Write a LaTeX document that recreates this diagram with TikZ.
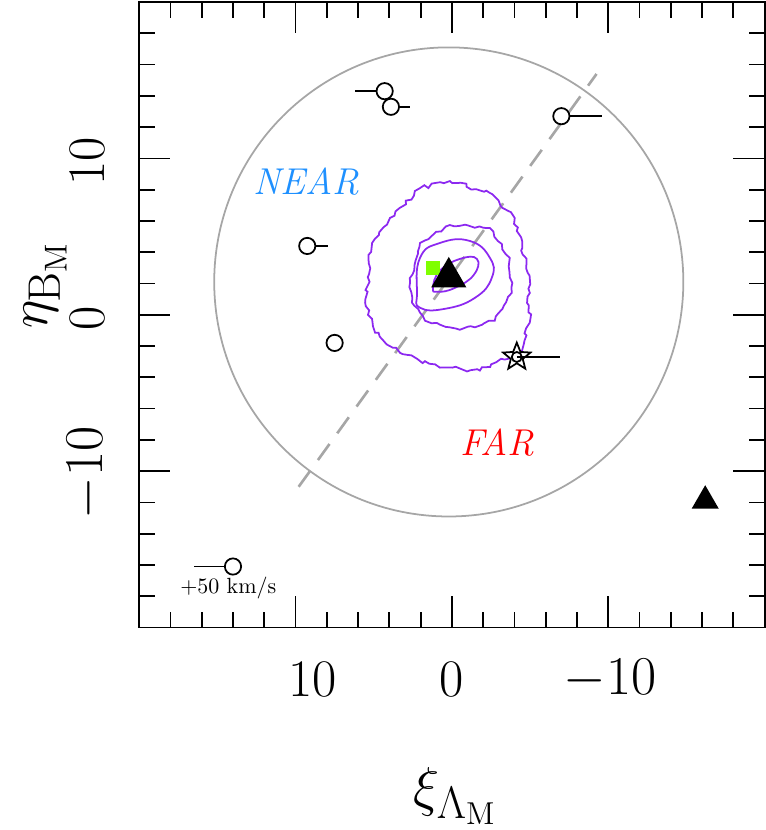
\documentclass[tikz,border=0pt]{standalone}
\usepackage{amsmath}
\usetikzlibrary{arrows.meta}
\usetikzlibrary{shapes.geometric}
\usetikzlibrary{decorations.pathmorphing}
\definecolor{contourpurple}{RGB}{140,40,240}
\definecolor{nearblue}{RGB}{30,144,255}
\definecolor{markgreen}{RGB}{127,255,0}
\tikzset{
  ticklabel/.style={font=\fontsize{24}{28}\selectfont},
  contour/.style={contourpurple, thick},
  wobbly/.style={decorate, decoration={random steps, segment length=2.2pt, amplitude=#1}},
  velobj/.style={black, thick},
  opencirc/.style={circle, draw, thick, minimum size=2.6mm, inner sep=0pt, fill=white},
  bigtri/.style={regular polygon, regular polygon sides=3, fill=black, inner sep=0pt, minimum size=#1},
}
\begin{document}
\begin{tikzpicture}[x=-0.25cm, y=0.25cm, every node/.style={scale=1}]
            \useasboundingbox (28.9,-32.95) rectangle (-20.05,20.13);
            % gray circle
            \draw[gray!70, thick] (0.2,2.1) circle (15);
            % dashed division line
            \draw[gray!70, line width=1.2pt, dash pattern=on 9pt off 6pt] (9.8,-11.0) -- (-9.25,15.4);

            % contours
            \draw[contour, wobbly=1pt] (5.55,0.77) -- (5.1,4.6) -- (3.96,6.19) -- (2.04,8.1) -- (0.13,8.55) -- (-2.43,7.79) -- (-4.02,6.19) -- (-4.85,2.68) -- (-4.98,-0.51) -- (-4.34,-2.43) -- (-1.79,-3.57) -- (0.77,-3.38) -- (3.32,-2.43) -- (4.91,-1.15) -- cycle;
            \draw[contour, wobbly=0.7pt] (2.68,2.04) -- (2.04,4.59) -- (0.13,5.74) -- (-2.43,5.55) -- (-3.70,3.64) -- (-3.83,1.40) -- (-2.74,-0.38) -- (-0.51,-0.96) -- (1.72,-0.38) -- (2.55,0.77) -- cycle;
            \draw[contour] plot[smooth cycle, tension=0.8] coordinates {(2.23,1.40) (2.04,3.64) (0.77,4.59) (-1.15,4.72) (-2.43,3.64) (-2.55,2.36) (-1.47,1.08) (0.45,0.38) (2.04,0.45)};
            \draw[contour] plot[smooth cycle, tension=0.8] coordinates {(1.21,1.72) (0.77,2.81) (-0.51,3.57) (-1.60,3.57) (-1.40,2.55) (-0.19,1.72) (0.89,1.47)};

            % region labels
            \node[nearblue, font=\fontsize{17}{20}\selectfont\itshape] (near) at (9.3,8.55) {NEAR};
            \node[red, font=\fontsize{17}{20}\selectfont\itshape] (far) at (-2.9,-8.2) {FAR};

            % objects with velocity bars
            \foreach \name/\xi/\eta/\xe in {a/4.3/14.3/6.2, b/3.9/13.3/2.7, c/-7.0/12.7/-9.6, d/9.25/4.4/7.9, e/7.5/-1.8/8.0, f/14.0/-16.1/16.5} {
                \coordinate (\name end) at (\xe,\eta);
                \draw[velobj] (\xi,\eta) -- (\name end);
                \node[opencirc] (\name) at (\xi,\eta) {};
            }
            % star with bar
            \coordinate (star end) at (-6.9,-2.7);
            \node[star, star points=5, star point ratio=2.3, draw, thick, fill=white, minimum size=4.6mm, inner sep=0pt] (star) at (-4.15,-2.7) {};
            \node[circle, draw, thick, minimum size=1.6mm, inner sep=0pt] (starc) at (-4.15,-2.7) {};
            \draw[velobj] (starc.center) -- (star end);

            % markers
            \node[fill=markgreen, minimum size=2.2mm, inner sep=0pt] (green) at (1.2,3.0) {};
            \node[bigtri=6.5mm] (centre) at (0.2,2.4) {};
            \node[bigtri=5mm] (outer) at (-16.2,-11.9) {};

            % scale label
            \node[font=\fontsize{10}{12}\selectfont] (scale) at (14.3,-17.5) {+50 km/s};

            % frame and ticks
            \draw[thick] (20,-20) rectangle (-20,20);
            \foreach \i in {-18,-16,...,18} {
                \draw[thick] (\i,-20) -- +(0,1);
                \draw[thick] (\i,20) -- +(0,-1);
                \draw[thick] (20,\i) -- +(-1,0);
                \draw[thick] (-20,\i) -- +(1,0);
            }
            \foreach \i in {-10,0,10} {
                \draw[thick] (\i,-20) -- +(0,2);
                \draw[thick] (\i,20) -- +(0,-2);
                \draw[thick] (20,\i) -- +(-2,0);
                \draw[thick] (-20,\i) -- +(2,0);
            }

            % tick labels
            \node[ticklabel] (x10) at (8.9,-23.3) {10};
            \node[ticklabel] (x0) at (0,-23.3) {0};
            \node[ticklabel] (xm10) at (-10.1,-23.3) {$-10$};
            \node[ticklabel, rotate=90] (y10) at (23.3,9.8) {10};
            \node[ticklabel, rotate=90] (y0) at (23.3,-0.2) {0};
            \node[ticklabel, rotate=90] (ym10) at (23.3,-10.1) {$-10$};

            % axis names
            \node[font=\fontsize{30}{34}\selectfont] (xlab) at (-0.2,-30.8) {$\xi_{\Lambda_{\mathrm{M}}}$};
            \node[font=\fontsize{30}{34}\selectfont, rotate=90] (ylab) at (26.0,1.9) {$\eta_{\mathrm{B}_{\mathrm{M}}}$};
        \end{tikzpicture}
\end{document}
